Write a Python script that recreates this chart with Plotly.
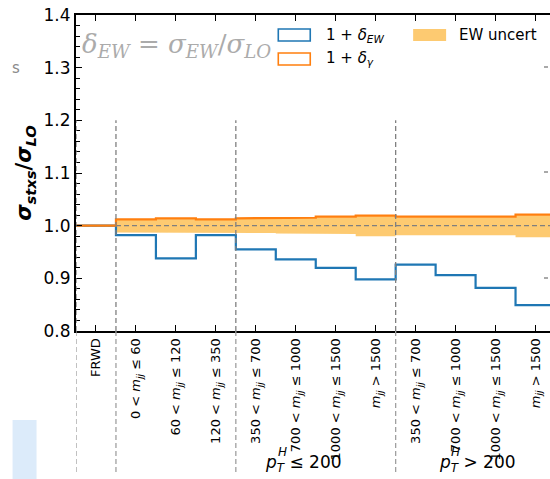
import numpy as np
import plotly.graph_objects as go

# ---------------- data ----------------
categories = [
    "FRWD",
    "0 < <i>m</i><sub><i>jj</i></sub> ≤ 60",
    "60 < <i>m</i><sub><i>jj</i></sub> ≤ 120",
    "120 < <i>m</i><sub><i>jj</i></sub> ≤ 350",
    "350 < <i>m</i><sub><i>jj</i></sub> ≤ 700",
    "700 < <i>m</i><sub><i>jj</i></sub> ≤ 1000",
    "1000 < <i>m</i><sub><i>jj</i></sub> ≤ 1500",
    "<i>m</i><sub><i>jj</i></sub> > 1500",
    "350 < <i>m</i><sub><i>jj</i></sub> ≤ 700",
    "700 < <i>m</i><sub><i>jj</i></sub> ≤ 1000",
    "1000 < <i>m</i><sub><i>jj</i></sub> ≤ 1500",
    "<i>m</i><sub><i>jj</i></sub> > 1500",
]
delta_ew = [1.000, 0.982, 0.938, 0.982, 0.955, 0.936, 0.920, 0.898, 0.926, 0.906, 0.882, 0.849]
delta_gamma = [1.000, 1.012, 1.014, 1.012, 1.014, 1.015, 1.017, 1.019, 1.017, 1.017, 1.017, 1.021]
ew_unc_low = [0.987, 0.987, 0.987, 0.986, 0.985, 0.984, 0.980, 0.982, 0.982, 0.982, 0.978]  # bins 1..11
ew_unc_high = [1.012, 1.013, 1.012, 1.013, 1.014, 1.016, 1.018, 1.016, 1.016, 1.016, 1.020]
group_edges = [-0.5, 0.5, 3.5, 7.5]
group_labels = ["<i>p</i><sub><i>T</i></sub> ≤ 200", "<i>p</i><sub><i>T</i></sub> > 200"]
group_label_sup = "<i>H</i>"
y_ticks = [0.8, 0.9, 1.0, 1.1, 1.2, 1.3, 1.4]
y_ticklabels = ["0.8", "0.9", "1.0", "1.1", "1.2", "1.3", "1.4"]

n = len(categories)
pos = np.arange(n)
edges = np.arange(n + 1) - 0.5


def step(edge_arr, vals):
    xs, ys = [], []
    for i, v in enumerate(vals):
        xs += [edge_arr[i], edge_arr[i + 1]]
        ys += [v, v]
    return xs, ys


W, H = 550, 479
L, T, B = 75.5, 15, 148
PW, PH = W - L, H - T - B


def px(x):
    return (x - L) / PW


def py(y):
    return (H - B - y) / PH


BAND = "rgba(253,193,88,0.85)"
fig = go.Figure()

# uncertainty band (bins 1..11)
bx, blo = step(edges[1:], ew_unc_low)
_, bhi = step(edges[1:], ew_unc_high)
fig.add_trace(go.Scatter(x=bx, y=blo, mode="lines", line=dict(width=0, color="rgba(0,0,0,0)"),
                         showlegend=False, hoverinfo="skip"))
fig.add_trace(go.Scatter(x=bx, y=bhi, mode="lines", line=dict(width=0, color="rgba(0,0,0,0)"),
                         fill="tonexty", fillcolor=BAND, showlegend=False, hoverinfo="skip"))

# reference dashed line at 1
fig.add_trace(go.Scatter(x=[edges[0], edges[-1] + 2], y=[1, 1], mode="lines",
                         line=dict(color="#7f7f7f", width=1.3, dash="5px,3px"),
                         showlegend=False, hoverinfo="skip"))

# blue step
sx, sy = step(edges, delta_ew)
fig.add_trace(go.Scatter(x=sx, y=sy, mode="lines", line=dict(color="#1f77b4", width=2.2),
                         showlegend=False))
# orange step
ox, oy = step(edges, delta_gamma)
fig.add_trace(go.Scatter(x=ox, y=oy, mode="lines", line=dict(color="#ff7f0e", width=2.2),
                         showlegend=False))

shapes = []
# vertical dashed separators
for e in group_edges:
    shapes.append(dict(type="line", xref="x", yref="y", x0=e, x1=e, y0=0.8, y1=1.2,
                       line=dict(color="#808080", width=1.3, dash="5px,3px"), layer="above"))
    shapes.append(dict(type="line", xref="x", yref="paper", x0=e, x1=e, y0=py(472), y1=0,
                       line=dict(color="#a0a0a0", width=1.3, dash="5px,3px")))

# legend (manual)
shapes.append(dict(type="rect", xref="paper", yref="paper", x0=px(278), x1=px(310), y0=py(41), y1=py(29),
                   line=dict(color="#1f77b4", width=1.6)))
shapes.append(dict(type="rect", xref="paper", yref="paper", x0=px(278), x1=px(310), y0=py(65), y1=py(53),
                   line=dict(color="#ff7f0e", width=1.6)))
shapes.append(dict(type="rect", xref="paper", yref="paper", x0=px(413), x1=px(446), y0=py(41), y1=py(29),
                   line=dict(width=0), fillcolor=BAND))
# cropped neighbour elements
shapes.append(dict(type="rect", xref="paper", yref="paper", x0=px(12), x1=px(36), y0=py(479), y1=py(420),
                   line=dict(width=0), fillcolor="#dcebfa"))
for yy in (67, 172, 278):
    shapes.append(dict(type="line", xref="paper", yref="paper", x0=px(544), x1=px(548), y0=py(yy), y1=py(yy),
                       line=dict(color="#8c8c8c", width=1.5)))

annotations = [
    dict(text="1 + <i>δ</i><sub><i>EW</i></sub>", xref="paper", yref="paper", x=px(324), y=py(35),
         xanchor="left", yanchor="middle", showarrow=False, font=dict(size=15, color="black")),
    dict(text="1 + <i>δ</i><sub><i>γ</i></sub>", xref="paper", yref="paper", x=px(324), y=py(59),
         xanchor="left", yanchor="middle", showarrow=False, font=dict(size=15, color="black")),
    dict(text="EW uncert", xref="paper", yref="paper", x=px(457), y=py(35),
         xanchor="left", yanchor="middle", showarrow=False, font=dict(size=15, color="black")),
    dict(text="<i>δ</i><sub><i>EW</i></sub> = <i>σ</i><sub><i>EW</i></sub>/<i>σ</i><sub><i>LO</i></sub>",
         xref="paper", yref="paper", x=px(80), y=py(46), xanchor="left", yanchor="middle",
         showarrow=False, font=dict(size=26, color="#ababab", family="DejaVu Serif")),
    dict(text="s", xref="paper", yref="paper", x=px(15), y=py(68), xanchor="center", yanchor="middle",
         showarrow=False, font=dict(size=15, color="#8a8a8a")),
]
for lab, lx, hx in zip(group_labels, (263, 437), (276, 449)):
    annotations.append(dict(text=lab, xref="paper", yref="paper", x=px(lx), y=py(463), xanchor="left",
                            yanchor="middle", showarrow=False, font=dict(size=17, color="black")))
    annotations.append(dict(text=group_label_sup, xref="paper", yref="paper", x=px(hx), y=py(452),
                            xanchor="left", yanchor="middle", showarrow=False,
                            font=dict(size=12, color="black")))

fig.update_layout(
    template="none",
    width=W, height=H,
    margin=dict(l=L, r=0, t=T, b=B, pad=0),
    paper_bgcolor="white", plot_bgcolor="white",
    font=dict(family="DejaVu Sans", color="black"),
    shapes=shapes, annotations=annotations,
    showlegend=False,
)
fig.update_xaxes(
    automargin=False,
    range=[-0.5, -0.5 + PW / 40.0],
    tickmode="array", tickvals=pos, ticktext=categories, tickangle=-90,
    tickfont=dict(size=13, color="black"),
    ticks="inside", ticklen=6, tickwidth=1.2, tickcolor="black",
    showline=True, linecolor="black", linewidth=2, mirror="ticks",
    showgrid=False, zeroline=False,
)
fig.update_yaxes(
    automargin=False,
    range=[0.8, 1.4], tickmode="array", tickvals=y_ticks, ticktext=y_ticklabels,
    tickfont=dict(size=17, color="black"),
    ticks="inside", ticklen=6, tickwidth=1.2, tickcolor="black",
    minor=dict(ticks="inside", dtick=0.02, tick0=0.8, ticklen=3.5, tickwidth=1, tickcolor="black", showgrid=False),
    showline=True, linecolor="black", linewidth=2, mirror=False,
    showgrid=False, zeroline=False,
    title=dict(text="<b><i>σ</i><sub><i>stxs</i></sub>/<i>σ</i><sub><i>LO</i></sub></b>",
               font=dict(size=21, color="black"), standoff=6),
)

fig.write_html("out.html", config={"displayModeBar": False},
               post_script="document.body.style.margin='0';document.body.style.padding='0';"
                           "document.documentElement.style.overflow='hidden';")
